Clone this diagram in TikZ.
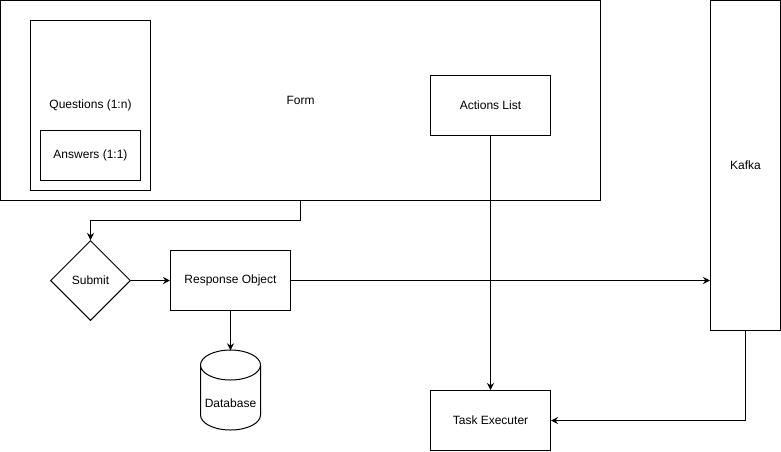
\documentclass[tikz,border=0pt]{standalone}
\usepackage{fontspec}
\setmainfont{Liberation Sans}
\usetikzlibrary{arrows.meta,shapes.geometric}
\begin{document}
\begin{tikzpicture}[x=1pt,y=-1pt,
  every node/.style={font=\fontsize{12}{14}\selectfont},
  box/.style={draw,line width=1pt,rectangle,inner sep=0pt},
  conn/.style={line width=1pt,-{Stealth[length=7pt,width=7pt]}},
  plain/.style={line width=1pt}]
\useasboundingbox (0,0) rectangle (781,451);
\node[box,minimum width=600,minimum height=200] (form) at (300.5,100.5) {Form};
\node[box,minimum width=120,minimum height=170] (q) at (90.5,105.5) {};
\node (qlabel) at (90.5,105) {Questions (1:n)};
\node[box,minimum width=100,minimum height=50] (ans) at (90.5,155.5) {Answers (1:1)};
\node[box,minimum width=120,minimum height=60] (act) at (490.5,105.5) {Actions List};
\node[box,minimum width=70,minimum height=330] (kafka) at (745.5,165.5) {Kafka};
\node[draw,line width=1pt,diamond,minimum width=80,minimum height=80,inner sep=0pt] (submit) at (90.5,280.5) {Submit};
\node[box,minimum width=120,minimum height=60] (resp) at (230.5,280.5) {Response Object};
\node[minimum width=60,minimum height=80,inner sep=0pt] (db) at (230.5,390.5) {};
\draw[line width=1pt] (200.5,365) -- (200.5,415) arc[start angle=180,end angle=0,x radius=30,y radius=15] -- (260.5,365) arc[start angle=0,end angle=-180,x radius=30,y radius=15] arc[start angle=180,end angle=0,x radius=30,y radius=15];
\node at (230.5,403) {Database};
\node[box,minimum width=120,minimum height=60] (task) at (490.5,420.5) {Task Executer};
\coordinate (c1) at (300.5,220.5);
\coordinate (c2) at (90.5,220.5);
\draw[conn] (form.south) -- (c1) -- (c2) -- (submit.north);
\draw[conn] (submit.east) -- (resp.west);
\draw[conn] (resp.south) -- (db.north);
\draw[conn] (resp.east) -- (resp.east -| kafka.west);
\draw[conn] (act.south) -- (task.north);
\draw[conn] (kafka.south) |- (task.east);
\end{tikzpicture}
\end{document}
